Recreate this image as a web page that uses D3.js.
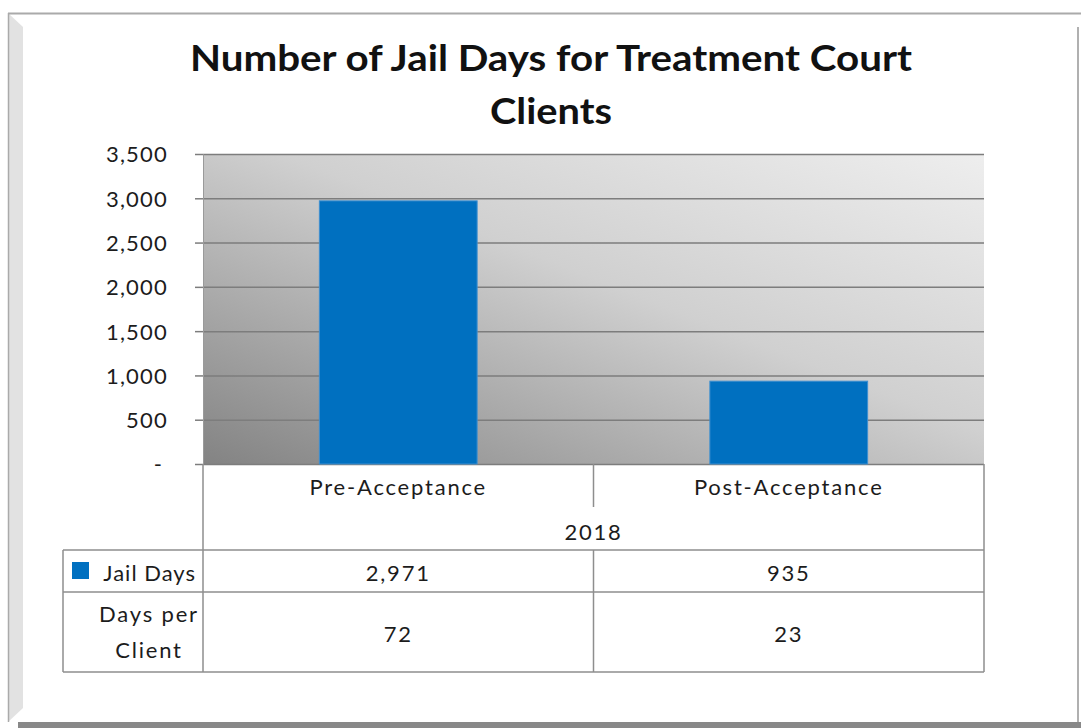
<!DOCTYPE html>
<html>
<head>
<meta charset="utf-8">
<script src="https://cdn.jsdelivr.net/npm/d3@7"></script>
<style>
  body { margin: 0; background: #fff; }
  svg { display: block; }
  text { font-family: Lato, "Open Sans", sans-serif; fill: #1c1c1c; }
</style>
</head>
<body>
<svg id="chart"></svg>
<script>
// data
var categories = ["Pre-Acceptance", "Post-Acceptance"];
var jailDays = [2971, 935];
var daysPerClient = [72, 23];
var groupLabel = "2018";
var yTicks = [0, 500, 1000, 1500, 2000, 2500, 3000, 3500];
var titleLines = ["Number of Jail Days for Treatment Court", "Clients"];

// basic settings
var width = 1081, height = 728;
var plotLeft = 203, plotRight = 984, plotTop = 154, plotBottom = 464;
var tableLeft = 63;
var rowLines = [464, 507, 550, 592, 672];
var lineColor = "#8e8e8e";

var svg = d3.select("#chart").attr("width", width).attr("height", height);

// frame with bevel
svg.append("polygon")
  .attr("points", "8,13 23,27 23,708 8,722")
  .attr("fill", "#e2e2e2");
svg.append("rect")
  .attr("x", 18).attr("y", 722).attr("width", width - 18).attr("height", 6)
  .attr("fill", "#888");
svg.append("line")
  .attr("x1", 8).attr("x2", width).attr("y1", 13.5).attr("y2", 13.5)
  .attr("stroke", "#aaa").attr("stroke-width", 2);
svg.append("line")
  .attr("x1", 8.5).attr("x2", 8.5).attr("y1", 13).attr("y2", 722)
  .attr("stroke", "#aaa").attr("stroke-width", 1.5);
svg.append("line")
  .attr("x1", 1078).attr("x2", 1078).attr("y1", 27).attr("y2", 722)
  .attr("stroke", "#b0b0b0").attr("stroke-width", 2);

// title
var titleWidths = [722, 122];
svg.append("g").selectAll("text")
  .data(titleLines)
  .enter().append("text")
  .attr("x", 551)
  .attr("y", function(d, i) { return 71 + i * 53; })
  .attr("text-anchor", "middle")
  .attr("font-size", 37)
  .attr("font-weight", "bold")
  .attr("textLength", function(d, i) { return titleWidths[i]; })
  .attr("lengthAdjust", "spacingAndGlyphs")
  .style("fill", "#111")
  .text(function(d) { return d; });

// scales
var y = d3.scaleLinear().domain([0, 3500]).range([plotBottom, plotTop]);
var x = d3.scaleBand().domain(categories).range([plotLeft, plotRight]);
var barWidth = x.bandwidth() * 0.404;

// plot background gradient
var defs = svg.append("defs");
var grad = defs.append("linearGradient")
  .attr("id", "plotBg")
  .attr("x1", 0).attr("y1", 1).attr("x2", 1).attr("y2", 0);
grad.append("stop").attr("offset", "0%").attr("stop-color", "#838383");
grad.append("stop").attr("offset", "55%").attr("stop-color", "#d0d0d0");
grad.append("stop").attr("offset", "100%").attr("stop-color", "#eeeeee");

svg.append("rect")
  .attr("x", plotLeft).attr("y", plotTop)
  .attr("width", plotRight - plotLeft).attr("height", plotBottom - plotTop)
  .attr("fill", "url(#plotBg)");

// gridlines
var grid = svg.append("g")
  .attr("transform", "translate(" + plotLeft + ",0)")
  .call(d3.axisLeft(y).tickValues(yTicks).tickSize(-(plotRight - plotLeft)).tickFormat(""));
grid.select(".domain").remove();
grid.selectAll("line").attr("stroke", "#7d7d7d").attr("stroke-width", 1.5);

// y axis
var yAxis = svg.append("g")
  .attr("transform", "translate(" + plotLeft + ",0)")
  .call(d3.axisLeft(y).tickValues(yTicks).tickSize(8).tickPadding(27)
    .tickFormat(function(d) { return d === 0 ? "-" : d3.format(",")(d); }));
yAxis.select(".domain").attr("stroke", "#9a9a9a").attr("stroke-width", 1);
yAxis.selectAll("line").attr("stroke", "#7d7d7d").attr("stroke-width", 1.5);
yAxis.selectAll("text")
  .attr("font-family", "Lato, sans-serif")
  .attr("font-size", 22)
  .attr("letter-spacing", 1.2)
  .attr("dy", "0.36em")
  .style("fill", "#1c1c1c");
yAxis.selectAll(".tick").filter(function(d) { return d === 0; })
  .select("text").attr("x", -40);

// bars
svg.append("g").selectAll("rect")
  .data(jailDays)
  .enter().append("rect")
  .attr("x", function(d, i) { return x(categories[i]) + (x.bandwidth() - barWidth) / 2; })
  .attr("y", function(d) { return y(d); })
  .attr("width", barWidth)
  .attr("height", function(d) { return plotBottom - y(d); })
  .attr("fill", "#0070c0")
  .attr("stroke", "#3d8fd0")
  .attr("stroke-width", 1);

// data table
var table = svg.append("g");
var hl = function(x1, x2, yy) {
  table.append("line").attr("x1", x1).attr("x2", x2).attr("y1", yy).attr("y2", yy)
    .attr("stroke", lineColor).attr("stroke-width", 1.5);
};
var vl = function(xx, y1, y2) {
  table.append("line").attr("x1", xx).attr("x2", xx).attr("y1", y1).attr("y2", y2)
    .attr("stroke", lineColor).attr("stroke-width", 1.5);
};
hl(tableLeft, plotRight, rowLines[2]);
hl(tableLeft, plotRight, rowLines[3]);
hl(tableLeft, plotRight, rowLines[4]);
vl(tableLeft, rowLines[2], rowLines[4]);
vl(plotLeft, rowLines[0], rowLines[4]);
vl(plotRight, rowLines[0], rowLines[4]);
vl(x(categories[1]), rowLines[0], rowLines[1]);
vl(x(categories[1]), rowLines[2], rowLines[4]);

var cellText = function(tx, ty, s, anchor) {
  return table.append("text")
    .attr("x", tx).attr("y", ty)
    .attr("text-anchor", anchor || "middle")
    .attr("font-size", 22)
    .attr("letter-spacing", 1.8)
    .text(s);
};

categories.forEach(function(c, i) {
  var cx = x(c) + x.bandwidth() / 2;
  cellText(cx, 495, c);
  cellText(cx, 581, d3.format(",")(jailDays[i]));
  cellText(cx, 642, daysPerClient[i]);
});
cellText((plotLeft + plotRight) / 2, 540, groupLabel);

// row headers
table.append("rect")
  .attr("x", 72).attr("y", 562).attr("width", 17).attr("height", 17)
  .attr("fill", "#0070c0");
cellText(196, 581, "Jail Days", "end").attr("letter-spacing", 1);
cellText(149, 622, "Days per");
cellText(149, 658, "Client");
</script>
</body>
</html>
